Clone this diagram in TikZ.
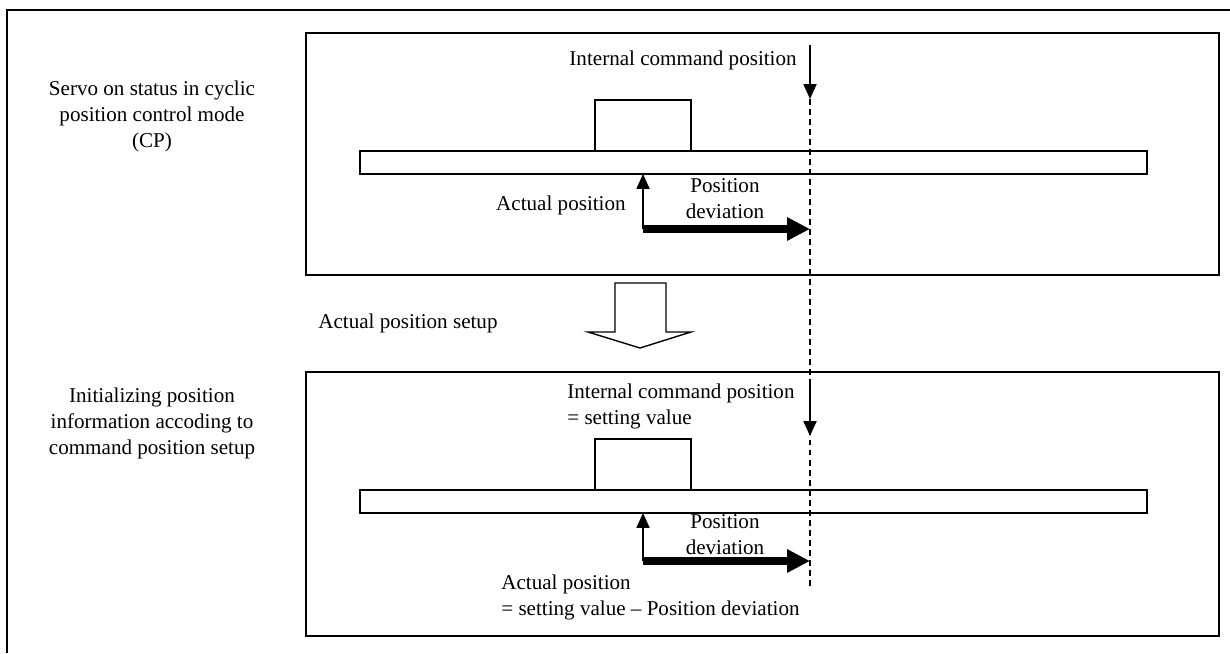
\documentclass[tikz,border=0pt]{standalone}
\usepackage{fontspec}
\setmainfont{Liberation Serif}
\usetikzlibrary{arrows.meta}

\tikzset{
  lbl/.style={font=\fontsize{12}{14.8}\selectfont, inner sep=0pt},
  frame/.style={draw, line width=0.9pt},
  thinarrow/.style={line width=0.7pt, -{Triangle[length=8.5pt,width=7.5pt]}},
  devarrow/.style={line width=4pt, -{Triangle[length=13pt,width=12.5pt]}},
  cmdline/.style={line width=0.6pt, dash pattern=on 3.4pt off 2.3pt}
}

\begin{document}
\begin{tikzpicture}[x=0.02cm,y=-0.02cm]
    \useasboundingbox (0,0) rectangle (1230,653);
    % outer frame (only its left and top edges fall inside the picture)
    \draw[frame] (7,653) -- (7,10) -- (1230,10);
    % the two panels
    \draw[frame] (306,33) rectangle (1219,275);
    \draw[frame] (306,372) rectangle (1219,636);

    % left captions
    \node[lbl, align=center] (capServo) at (152,116)
        {Servo on status in cyclic\\position control mode\\(CP)};
    \node[lbl, align=center] (capInit) at (152,423)
        {Initializing position\\information accoding to\\command position setup};

    % upper panel: rail and block
    \draw[line width=0.9pt] (360,151) rectangle (1147,174);
    \draw[line width=0.9pt] (595,100) rectangle (691,151);
    \coordinate (cmdA) at (810,45);
    \coordinate (cmdB) at (810,99);
    \coordinate (actA) at (643,229);
    \coordinate (actB) at (643,174);
    \coordinate (devA) at (810,229);
    \draw[thinarrow] (cmdA) -- (cmdB);
    \draw[thinarrow] (actA) -- (actB);
    \draw[devarrow] (actA) -- (devA);
    \node[lbl, anchor=east] (cmdUp) at (797,60) {Internal command position};
    \node[lbl, anchor=east] (actUp) at (626,205) {Actual position};
    \node[lbl, align=center] (devUp) at (725,199) {Position\\deviation};

    % hollow arrow between the panels
    \draw[line width=0.8pt] (615,283) -- (615,332) -- (588,332) -- (640,348)
        -- (691,332) -- (666,332) -- (666,283) -- cycle;
    \node[lbl, anchor=west] (setup) at (318,323) {Actual position setup};

    % lower panel: rail and block
    \draw[line width=0.9pt] (360,490) rectangle (1147,513);
    \draw[line width=0.9pt] (595,439) rectangle (691,490);
    \coordinate (cmdC) at (810,385);
    \coordinate (cmdD) at (810,436);
    \coordinate (actC) at (643,561);
    \coordinate (actD) at (643,513);
    \coordinate (devC) at (810,561);
    \draw[thinarrow] (cmdC) -- (cmdD);
    \draw[thinarrow] (actC) -- (actD);
    \draw[devarrow] (actC) -- (devC);
    \node[lbl, align=left, anchor=west] (cmdLo) at (567,406)
        {Internal command position\\= setting value};
    \node[lbl, align=center] (devLo) at (725,535) {Position\\deviation};
    \node[lbl, align=left, anchor=west] (actLo) at (501,597)
        {Actual position\\= setting value -- Position deviation};

    % command position line through both panels
    \draw[cmdline] (cmdB) -- (810,588);
\end{tikzpicture}
\end{document}
